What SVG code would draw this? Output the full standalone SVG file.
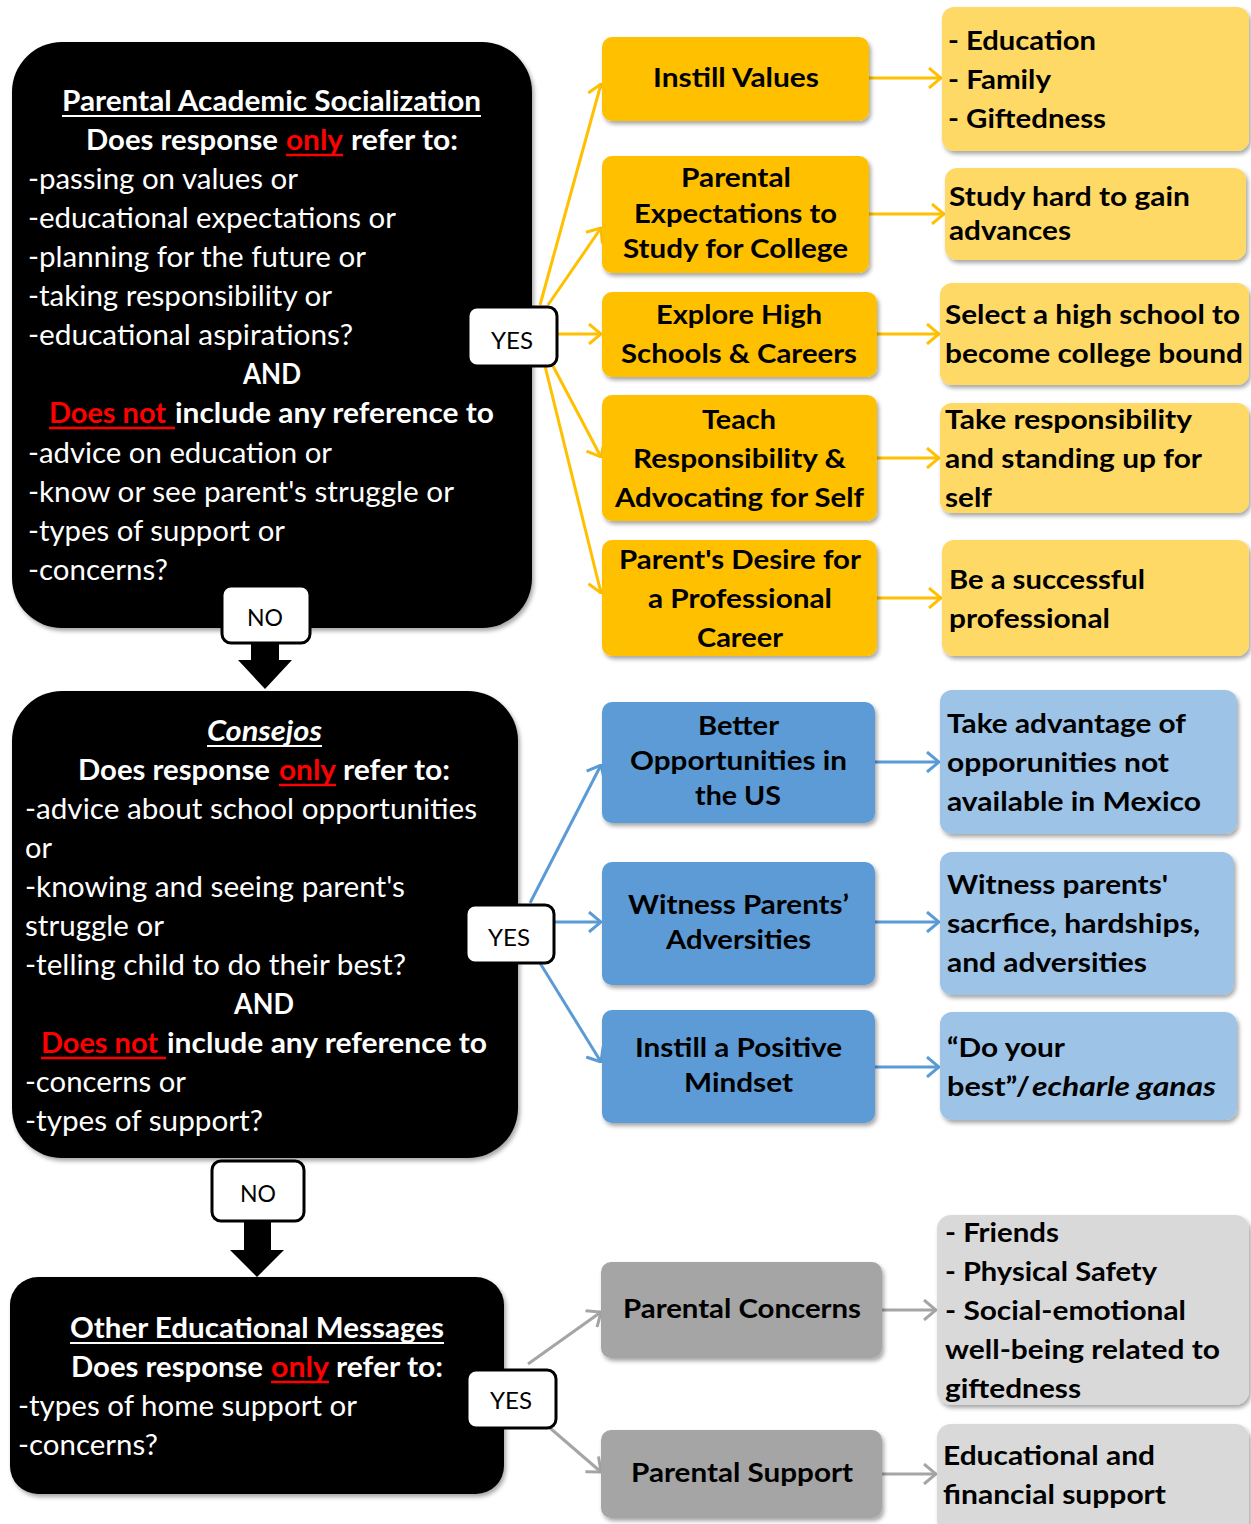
<svg xmlns="http://www.w3.org/2000/svg" width="1251" height="1524" viewBox="0 0 1251 1524">
<style>
text{font-family:Lato,"Open Sans","Liberation Sans",sans-serif;}
.wb{fill:#fff;font-weight:700;font-size:29px;}
.wr{fill:#fff;font-weight:400;font-size:29px;}
.rb{fill:#ff0000;font-weight:700;font-size:29px;}
.kb{fill:#000;font-weight:700;font-size:27px;}
.yn{fill:#000;font-weight:400;font-size:24px;}
.ul{stroke:#fff;stroke-width:2;}
.ulr{stroke:#ff0000;stroke-width:2.5;}
.blk{fill:#000;}
.yes{fill:#fff;stroke:#000;stroke-width:3;}
.y1{fill:#FFC000;}
.y2{fill:#FFD966;}
.b1{fill:#5B9BD5;}
.b2{fill:#9DC3E6;}
.g1{fill:#A5A5A5;}
.g2{fill:#D9D9D9;}
.cy{stroke:#FFC000;stroke-width:3;fill:none;marker-end:url(#my);}
.cb{stroke:#5B9BD5;stroke-width:3;fill:none;marker-end:url(#mb);}
.cg{stroke:#A5A5A5;stroke-width:3;fill:none;marker-end:url(#mg);}
</style>
<defs>
<filter id="sh" x="-10%" y="-10%" width="120%" height="130%">
<feDropShadow dx="2" dy="3" stdDeviation="2" flood-color="#000" flood-opacity="0.35"/>
</filter>
<marker id="my" viewBox="0 0 14 22" refX="13" refY="11" markerWidth="14" markerHeight="22" markerUnits="userSpaceOnUse" orient="auto"><path d="M1,1 L13,11 L1,21" fill="none" stroke="#FFC000" stroke-width="3"/></marker>
<marker id="mb" viewBox="0 0 14 22" refX="13" refY="11" markerWidth="14" markerHeight="22" markerUnits="userSpaceOnUse" orient="auto"><path d="M1,1 L13,11 L1,21" fill="none" stroke="#5B9BD5" stroke-width="3"/></marker>
<marker id="mg" viewBox="0 0 14 22" refX="13" refY="11" markerWidth="14" markerHeight="22" markerUnits="userSpaceOnUse" orient="auto"><path d="M1,1 L13,11 L1,21" fill="none" stroke="#A5A5A5" stroke-width="3"/></marker>
</defs>
<rect width="1251" height="1524" fill="#fff"/>

<g id="q1">
<rect class="blk" x="12" y="42" width="520" height="586" rx="50" filter="url(#sh)"/>
<text class="wb" x="62" y="111" textLength="419" lengthAdjust="spacingAndGlyphs">Parental Academic Socialization</text>
<line class="ul" x1="62" y1="116" x2="481" y2="116"/>
<text class="wb" x="86" y="150" textLength="192" lengthAdjust="spacingAndGlyphs">Does response</text>
<text class="rb" x="286" y="150" textLength="57" lengthAdjust="spacingAndGlyphs">only</text>
<line class="ulr" x1="286" y1="155" x2="343" y2="155"/>
<text class="wb" x="351" y="150" textLength="107" lengthAdjust="spacingAndGlyphs">refer to:</text>
<text class="wr" x="28" y="189" textLength="270" lengthAdjust="spacingAndGlyphs">-passing on values or</text>
<text class="wr" x="28" y="228" textLength="368" lengthAdjust="spacingAndGlyphs">-educational expectations or</text>
<text class="wr" x="28" y="267" textLength="338" lengthAdjust="spacingAndGlyphs">-planning for the future or</text>
<text class="wr" x="28" y="306" textLength="304" lengthAdjust="spacingAndGlyphs">-taking responsibility or</text>
<text class="wr" x="28" y="345" textLength="325" lengthAdjust="spacingAndGlyphs">-educational aspirations?</text>
<text class="wb" x="243" y="384" textLength="58" lengthAdjust="spacingAndGlyphs">AND</text>
<text class="rb" x="49" y="423" textLength="117" lengthAdjust="spacingAndGlyphs">Does not</text>
<line class="ulr" x1="49" y1="428" x2="175" y2="428"/>
<text class="wb" x="175" y="423" textLength="319" lengthAdjust="spacingAndGlyphs">include any reference to</text>
<text class="wr" x="28" y="463" textLength="304" lengthAdjust="spacingAndGlyphs">-advice on education or</text>
<text class="wr" x="28" y="502" textLength="426" lengthAdjust="spacingAndGlyphs">-know or see parent's struggle or</text>
<text class="wr" x="28" y="541" textLength="257" lengthAdjust="spacingAndGlyphs">-types of support or</text>
<text class="wr" x="28" y="580" textLength="140" lengthAdjust="spacingAndGlyphs">-concerns?</text>
</g>

<g id="q2">
<rect class="blk" x="12" y="691" width="506" height="467" rx="50" filter="url(#sh)"/>
<text class="wb" x="207" y="741" font-style="italic" textLength="115" lengthAdjust="spacingAndGlyphs">Consejos</text>
<line class="ul" x1="207" y1="746" x2="322" y2="746"/>
<text class="wb" x="78" y="780" textLength="192" lengthAdjust="spacingAndGlyphs">Does response</text>
<text class="rb" x="279" y="780" textLength="57" lengthAdjust="spacingAndGlyphs">only</text>
<line class="ulr" x1="279" y1="785" x2="336" y2="785"/>
<text class="wb" x="343" y="780" textLength="107" lengthAdjust="spacingAndGlyphs">refer to:</text>
<text class="wr" x="25" y="819" textLength="452" lengthAdjust="spacingAndGlyphs">-advice about school opportunities</text>
<text class="wr" x="25" y="858" textLength="27" lengthAdjust="spacingAndGlyphs">or</text>
<text class="wr" x="25" y="897" textLength="380" lengthAdjust="spacingAndGlyphs">-knowing and seeing parent's</text>
<text class="wr" x="25" y="936" textLength="139" lengthAdjust="spacingAndGlyphs">struggle or</text>
<text class="wr" x="25" y="975" textLength="381" lengthAdjust="spacingAndGlyphs">-telling child to do their best?</text>
<text class="wb" x="234" y="1014" textLength="60" lengthAdjust="spacingAndGlyphs">AND</text>
<text class="rb" x="41" y="1053" textLength="117" lengthAdjust="spacingAndGlyphs">Does not</text>
<line class="ulr" x1="41" y1="1058" x2="166" y2="1058"/>
<text class="wb" x="167" y="1053" textLength="320" lengthAdjust="spacingAndGlyphs">include any reference to</text>
<text class="wr" x="25" y="1092" textLength="161" lengthAdjust="spacingAndGlyphs">-concerns or</text>
<text class="wr" x="25" y="1131" textLength="238" lengthAdjust="spacingAndGlyphs">-types of support?</text>
</g>

<g id="q3">
<rect class="blk" x="10" y="1277" width="494" height="217" rx="28" filter="url(#sh)"/>
<text class="wb" x="70" y="1338" textLength="374" lengthAdjust="spacingAndGlyphs">Other Educational Messages</text>
<line class="ul" x1="70" y1="1343" x2="444" y2="1343"/>
<text class="wb" x="71" y="1377" textLength="192" lengthAdjust="spacingAndGlyphs">Does response</text>
<text class="rb" x="271" y="1377" textLength="58" lengthAdjust="spacingAndGlyphs">only</text>
<line class="ulr" x1="271" y1="1382" x2="329" y2="1382"/>
<text class="wb" x="336" y="1377" textLength="107" lengthAdjust="spacingAndGlyphs">refer to:</text>
<text class="wr" x="18" y="1416" textLength="339" lengthAdjust="spacingAndGlyphs">-types of home support or</text>
<text class="wr" x="18" y="1455" textLength="140" lengthAdjust="spacingAndGlyphs">-concerns?</text>
</g>

<g id="connectors">
<line class="cy" x1="540" y1="305" x2="601" y2="84"/>
<line class="cy" x1="548" y1="305" x2="601" y2="228"/>
<line class="cy" x1="557" y1="334" x2="601" y2="334"/>
<line class="cy" x1="553" y1="366" x2="601" y2="457"/>
<line class="cy" x1="545" y1="366" x2="601" y2="593"/>
<line class="cy" x1="869" y1="78" x2="941" y2="78"/>
<line class="cy" x1="869" y1="214" x2="944" y2="214"/>
<line class="cy" x1="877" y1="334" x2="939" y2="334"/>
<line class="cy" x1="877" y1="458" x2="939" y2="458"/>
<line class="cy" x1="877" y1="598" x2="941" y2="598"/>
<line class="cb" x1="530" y1="903" x2="601" y2="765"/>
<line class="cb" x1="554" y1="922" x2="601" y2="922"/>
<line class="cb" x1="540" y1="963" x2="601" y2="1062"/>
<line class="cb" x1="875" y1="762" x2="939" y2="762"/>
<line class="cb" x1="875" y1="922" x2="939" y2="922"/>
<line class="cb" x1="875" y1="1067" x2="939" y2="1067"/>
<line class="cg" x1="528" y1="1364" x2="601" y2="1312"/>
<line class="cg" x1="550" y1="1428" x2="601" y2="1472"/>
<line class="cg" x1="882" y1="1310" x2="936" y2="1310"/>
<line class="cg" x1="882" y1="1474" x2="936" y2="1474"/>
<polygon class="blk" points="251,640 279,640 279,660 292,660 265,689 238,660 251,660"/>
<polygon class="blk" points="244,1218 271,1218 271,1250 284,1250 257,1277 230,1250 244,1250"/>
</g>

<g id="yes1"><rect class="yes" x="468" y="307" width="89" height="59" rx="9"/><text class="yn" x="491" y="349" textLength="42" lengthAdjust="spacingAndGlyphs">YES</text></g>
<g id="no1"><rect class="yes" x="222" y="586" width="88" height="57" rx="9"/><text class="yn" x="247" y="626" textLength="36" lengthAdjust="spacingAndGlyphs">NO</text></g>
<g id="yes2"><rect class="yes" x="466" y="905" width="88" height="58" rx="9"/><text class="yn" x="488" y="946" textLength="42" lengthAdjust="spacingAndGlyphs">YES</text></g>
<g id="no2"><rect class="yes" x="212" y="1161" width="92" height="60" rx="9"/><text class="yn" x="240" y="1202" textLength="36" lengthAdjust="spacingAndGlyphs">NO</text></g>
<g id="yes3"><rect class="yes" x="467" y="1370" width="89" height="58" rx="9"/><text class="yn" x="490" y="1409" textLength="42" lengthAdjust="spacingAndGlyphs">YES</text></g>

<g id="m1"><rect class="y1" x="602" y="37" width="267" height="84" rx="10" filter="url(#sh)"/>
<text class="kb" x="653" y="87" textLength="166" lengthAdjust="spacingAndGlyphs">Instill Values</text></g>
<g id="m2"><rect class="y1" x="602" y="156" width="267" height="117" rx="10" filter="url(#sh)"/>
<text class="kb" x="681" y="187" textLength="110" lengthAdjust="spacingAndGlyphs">Parental</text>
<text class="kb" x="634" y="223" textLength="203" lengthAdjust="spacingAndGlyphs">Expectations to</text>
<text class="kb" x="623" y="258" textLength="225" lengthAdjust="spacingAndGlyphs">Study for College</text></g>
<g id="m3"><rect class="y1" x="602" y="292" width="275" height="85" rx="10" filter="url(#sh)"/>
<text class="kb" x="656" y="324" textLength="166" lengthAdjust="spacingAndGlyphs">Explore High</text>
<text class="kb" x="621" y="363" textLength="236" lengthAdjust="spacingAndGlyphs">Schools &amp; Careers</text></g>
<g id="m4"><rect class="y1" x="602" y="395" width="275" height="126" rx="10" filter="url(#sh)"/>
<text class="kb" x="702" y="429" textLength="74" lengthAdjust="spacingAndGlyphs">Teach</text>
<text class="kb" x="633" y="468" textLength="213" lengthAdjust="spacingAndGlyphs">Responsibility &amp;</text>
<text class="kb" x="615" y="507" textLength="249" lengthAdjust="spacingAndGlyphs">Advocating for Self</text></g>
<g id="m5"><rect class="y1" x="602" y="540" width="275" height="116" rx="10" filter="url(#sh)"/>
<text class="kb" x="619" y="569" textLength="242" lengthAdjust="spacingAndGlyphs">Parent's Desire for</text>
<text class="kb" x="648" y="608" textLength="184" lengthAdjust="spacingAndGlyphs">a Professional</text>
<text class="kb" x="697" y="647" textLength="86" lengthAdjust="spacingAndGlyphs">Career</text></g>

<g id="r1"><rect class="y2" x="942" y="7" width="307" height="144" rx="12" filter="url(#sh)"/>
<text class="kb" x="948" y="50" textLength="148" lengthAdjust="spacingAndGlyphs">- Education</text>
<text class="kb" x="948" y="89" textLength="103" lengthAdjust="spacingAndGlyphs">- Family</text>
<text class="kb" x="948" y="128" textLength="158" lengthAdjust="spacingAndGlyphs">- Giftedness</text></g>
<g id="r2"><rect class="y2" x="945" y="168" width="301" height="92" rx="12" filter="url(#sh)"/>
<text class="kb" x="949" y="206" textLength="241" lengthAdjust="spacingAndGlyphs">Study hard to gain</text>
<text class="kb" x="949" y="240" textLength="122" lengthAdjust="spacingAndGlyphs">advances</text></g>
<g id="r3"><rect class="y2" x="940" y="283" width="309" height="102" rx="12" filter="url(#sh)"/>
<text class="kb" x="945" y="324" textLength="295" lengthAdjust="spacingAndGlyphs">Select a high school to</text>
<text class="kb" x="945" y="363" textLength="298" lengthAdjust="spacingAndGlyphs">become college bound</text></g>
<g id="r4"><rect class="y2" x="940" y="403" width="309" height="110" rx="12" filter="url(#sh)"/>
<text class="kb" x="945" y="429" textLength="247" lengthAdjust="spacingAndGlyphs">Take responsibility</text>
<text class="kb" x="945" y="468" textLength="257" lengthAdjust="spacingAndGlyphs">and standing up for</text>
<text class="kb" x="945" y="507" textLength="47" lengthAdjust="spacingAndGlyphs">self</text></g>
<g id="r5"><rect class="y2" x="942" y="540" width="307" height="116" rx="12" filter="url(#sh)"/>
<text class="kb" x="949" y="589" textLength="196" lengthAdjust="spacingAndGlyphs">Be a successful</text>
<text class="kb" x="949" y="628" textLength="161" lengthAdjust="spacingAndGlyphs">professional</text></g>

<g id="m6"><rect class="b1" x="602" y="702" width="273" height="121" rx="10" filter="url(#sh)"/>
<text class="kb" x="698" y="735" textLength="81" lengthAdjust="spacingAndGlyphs">Better</text>
<text class="kb" x="630" y="770" textLength="217" lengthAdjust="spacingAndGlyphs">Opportunities in</text>
<text class="kb" x="695" y="805" textLength="86" lengthAdjust="spacingAndGlyphs">the US</text></g>
<g id="m7"><rect class="b1" x="602" y="862" width="273" height="123" rx="10" filter="url(#sh)"/>
<text class="kb" x="628" y="914" textLength="221" lengthAdjust="spacingAndGlyphs">Witness Parents’</text>
<text class="kb" x="666" y="949" textLength="145" lengthAdjust="spacingAndGlyphs">Adversities</text></g>
<g id="m8"><rect class="b1" x="602" y="1010" width="273" height="113" rx="10" filter="url(#sh)"/>
<text class="kb" x="635" y="1057" textLength="207" lengthAdjust="spacingAndGlyphs">Instill a Positive</text>
<text class="kb" x="684" y="1092" textLength="109" lengthAdjust="spacingAndGlyphs">Mindset</text></g>

<g id="r6"><rect class="b2" x="940" y="690" width="297" height="144" rx="12" filter="url(#sh)"/>
<text class="kb" x="947" y="733" textLength="239" lengthAdjust="spacingAndGlyphs">Take advantage of</text>
<text class="kb" x="947" y="772" textLength="222" lengthAdjust="spacingAndGlyphs">opporunities not</text>
<text class="kb" x="947" y="811" textLength="254" lengthAdjust="spacingAndGlyphs">available in Mexico</text></g>
<g id="r7"><rect class="b2" x="940" y="852" width="294" height="143" rx="12" filter="url(#sh)"/>
<text class="kb" x="947" y="894" textLength="221" lengthAdjust="spacingAndGlyphs">Witness parents'</text>
<text class="kb" x="947" y="933" textLength="253" lengthAdjust="spacingAndGlyphs">sacrfice, hardships,</text>
<text class="kb" x="947" y="972" textLength="200" lengthAdjust="spacingAndGlyphs">and adversities</text></g>
<g id="r8"><rect class="b2" x="940" y="1012" width="297" height="108" rx="12" filter="url(#sh)"/>
<text class="kb" x="947" y="1057" textLength="118" lengthAdjust="spacingAndGlyphs">“Do your</text>
<text class="kb" x="947" y="1096" textLength="83" lengthAdjust="spacingAndGlyphs">best”/</text>
<text class="kb" x="1032" y="1096" font-style="italic" textLength="184" lengthAdjust="spacingAndGlyphs">echarle ganas</text></g>

<g id="m9"><rect class="g1" x="601" y="1262" width="281" height="96" rx="10" filter="url(#sh)"/>
<text class="kb" x="623" y="1318" textLength="238" lengthAdjust="spacingAndGlyphs">Parental Concerns</text></g>
<g id="m10"><rect class="g1" x="601" y="1430" width="281" height="88" rx="10" filter="url(#sh)"/>
<text class="kb" x="631" y="1482" textLength="222" lengthAdjust="spacingAndGlyphs">Parental Support</text></g>

<g id="r9"><rect class="g2" x="937" y="1215" width="312" height="190" rx="14" filter="url(#sh)"/>
<text class="kb" x="945" y="1242" textLength="114" lengthAdjust="spacingAndGlyphs">- Friends</text>
<text class="kb" x="945" y="1281" textLength="212" lengthAdjust="spacingAndGlyphs">- Physical Safety</text>
<text class="kb" x="945" y="1320" textLength="241" lengthAdjust="spacingAndGlyphs">- Social-emotional</text>
<text class="kb" x="945" y="1359" textLength="275" lengthAdjust="spacingAndGlyphs">well-being related to</text>
<text class="kb" x="945" y="1398" textLength="136" lengthAdjust="spacingAndGlyphs">giftedness</text></g>
<g id="r10"><rect class="g2" x="937" y="1424" width="312" height="110" rx="14" filter="url(#sh)"/>
<text class="kb" x="943" y="1465" textLength="212" lengthAdjust="spacingAndGlyphs">Educational and</text>
<text class="kb" x="943" y="1504" textLength="223" lengthAdjust="spacingAndGlyphs">financial support</text></g>
</svg>
